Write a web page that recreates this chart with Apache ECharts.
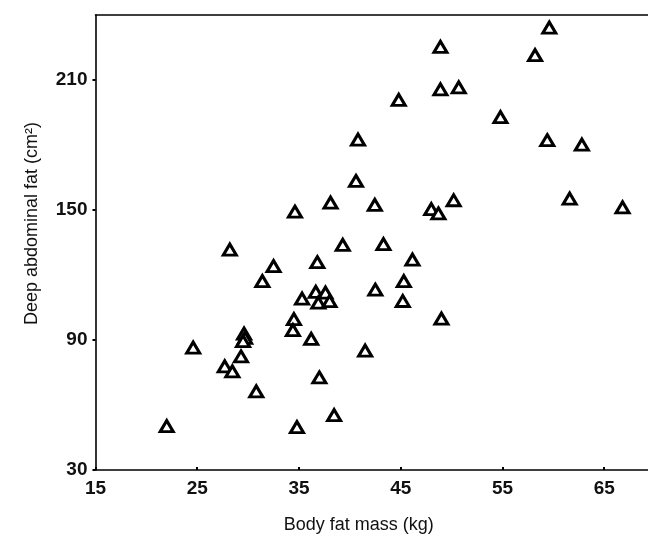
<!DOCTYPE html>
<html>
<head>
<meta charset="utf-8">
<script src="https://cdn.jsdelivr.net/npm/echarts@6/dist/echarts.min.js"></script>
<style>html,body{margin:0;padding:0;background:#fff}#c{width:648px;height:539px}</style>
</head>
<body>
<div id="c"></div>
<script>
// Body fat mass (kg)
var bodyFat = [40.8, 40.6, 38.1, 34.6,
  59.6, 48.9, 58.2, 48.9, 50.7, 44.8, 54.8, 59.4, 62.8, 42.45, 48.0, 48.7, 50.2, 61.6, 66.8,
  28.2, 32.5, 31.4, 36.8, 39.3, 35.3, 36.65, 37.6, 36.9, 38.0, 34.5, 34.4, 36.2,
  29.6, 29.7, 29.5, 24.6, 29.3, 27.7, 28.45, 30.8, 37.0, 41.5, 22.0, 34.8, 38.45,
  43.3, 46.15, 45.3, 42.5, 45.2, 49.0];
// Deep abdominal fat (cm2)
var deepFat = [182.5, 163.4, 153.4, 149.2,
  234.2, 225.3, 221.5, 205.7, 206.6, 200.8, 192.9, 182.2, 180.2, 152.4, 150.4, 148.4, 154.5, 155.3, 151.2,
  131.7, 124.1, 117.2, 125.9, 133.9, 109.1, 112.2, 111.9, 107.3, 107.9, 99.6, 94.6, 90.5,
  93.0, 91.0, 89.5, 86.5, 82.4, 77.8, 75.5, 66.3, 72.7, 85.1, 50.3, 49.8, 55.3,
  134.3, 127.1, 117.2, 113.2, 108.0, 99.9];
var xTicks = [15, 25, 35, 45, 55, 65];
var yTicks = [30, 90, 150, 210];

var points = bodyFat.map(function (x, i) { return [x, deepFat[i]]; });

var chart = echarts.init(document.getElementById('c'), null, {renderer: 'canvas'});
var font = '"Liberation Sans", Arial, Helvetica, sans-serif';
var X_MIN = 15, X_MAX = 69.3, Y_MIN = 30, Y_MAX = 240;
chart.setOption({
  animation: false,
  backgroundColor: '#fff',
  grid: {left: 95.5, top: 15, right: 0, bottom: 66.5, show: false},
  xAxis: [{
    type: 'value', min: X_MIN, max: X_MAX, interval: 10,
    name: 'Body fat mass (kg)', nameLocation: 'middle', nameGap: 46,
    nameTextStyle: {fontFamily: font, fontSize: 18, color: '#111', padding: [0, 26, 0, 0]},
    axisLine: {show: true, onZero: false, lineStyle: {color: '#000', width: 1.6}},
    axisTick: {show: true, inside: true, length: 3, lineStyle: {color: '#000', width: 2}},
    splitLine: {show: false},
    axisLabel: {
      fontFamily: font, fontSize: 19, fontWeight: 'bold', color: '#111', margin: 9,
      showMaxLabel: false,
      formatter: function (v) { return xTicks.indexOf(v) >= 0 ? String(v) : ''; }
    }
  }, {
    type: 'value', position: 'top', min: X_MIN, max: X_MAX,
    axisLine: {show: true, onZero: false, lineStyle: {color: '#000', width: 1.6}},
    axisTick: {show: false}, axisLabel: {show: false}, splitLine: {show: false}
  }],
  yAxis: {
    type: 'value', min: Y_MIN, max: Y_MAX, interval: 60,
    name: 'Deep abdominal fat (cm²)', nameLocation: 'middle', nameGap: 54,
    nameTextStyle: {fontFamily: font, fontSize: 18, color: '#111', padding: [0, 0, 0, 38]},
    axisLine: {show: true, onZero: false, lineStyle: {color: '#000', width: 1.6}},
    axisTick: {show: true, inside: false, length: 3, lineStyle: {color: '#000', width: 2}},
    splitLine: {show: false},
    axisLabel: {
      fontFamily: font, fontSize: 19, fontWeight: 'bold', color: '#111', margin: 8,
      showMaxLabel: false,
      formatter: function (v) { return yTicks.indexOf(v) >= 0 ? String(v) : ''; }
    }
  },
  series: [{
    type: 'scatter',
    xAxisIndex: 0,
    data: points,
    symbol: 'triangle',
    symbolSize: [13, 11],
    itemStyle: {color: '#fff', borderColor: '#000', borderWidth: 3, opacity: 1}
  }]
});
</script>
</body>
</html>
